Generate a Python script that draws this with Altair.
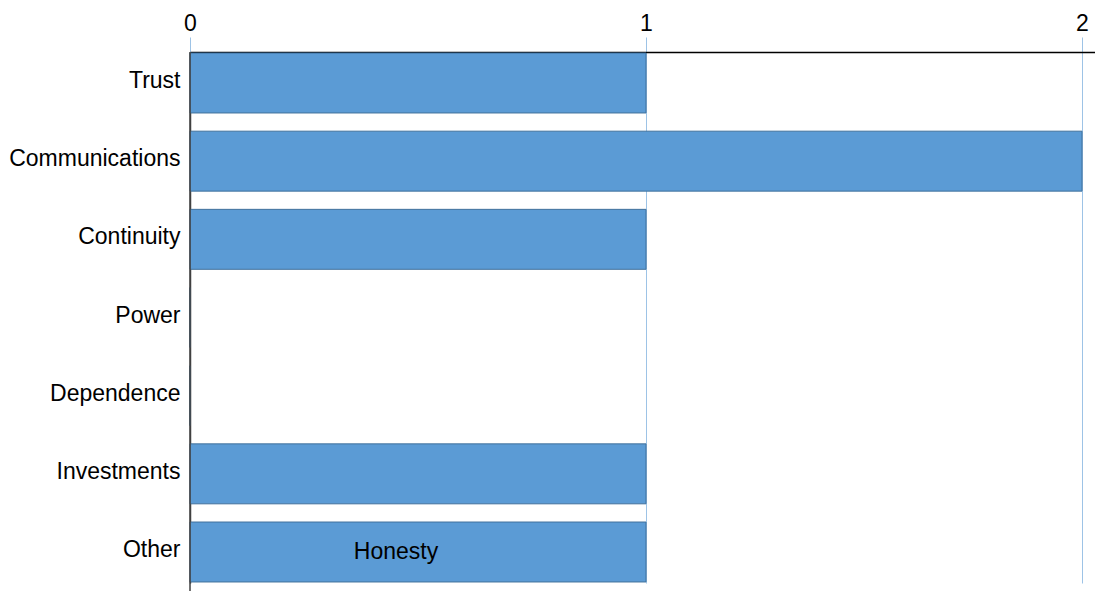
import altair as alt
import pandas as pd

categories = ["Trust", "Communications", "Continuity", "Power", "Dependence", "Investments", "Other"]
values = [1, 2, 1, 0, 0, 1, 1]
bar_labels = ["", "", "", "", "", "", "Honesty"]
x_ticks = [0, 1, 2]

df = pd.DataFrame({"category": categories, "value": values, "label": bar_labels})
df["mid"] = df["value"] / 2

FONT = "Liberation Sans, Arial, sans-serif"
FS = 23
W, H = 905, 531

x_scale = alt.Scale(domain=[0, 1, 2, 2.03], range=[0, 456, 892, W], nice=False)
y_enc = alt.Y(
    "category:N",
    sort=categories,
    scale=alt.Scale(paddingInner=0.233, paddingOuter=0.013),
    axis=alt.Axis(
        title=None, ticks=False, labelFontSize=FS, labelFont=FONT, labelColor="black",
        labelPadding=10, labelLimit=400, domainColor="#404040", domainWidth=1.5,
        grid=False, labelOffset=-2,
    ),
)

bars = alt.Chart(df).mark_bar(fill="#5B9BD5", stroke="#41719C", strokeWidth=1).encode(
    x=alt.X(
        "value:Q",
        scale=x_scale,
        axis=alt.Axis(
            orient="top", values=x_ticks, tickCount=20, tickMinStep=0.1,
            labelExpr="format(datum.value, 'd')", title=None, labelFontSize=FS,
            labelFont=FONT, labelColor="black", labelPadding=2, tickSize=15,
            tickColor="#9DC3E6", tickWidth=1, domainColor="black", domainWidth=1.5,
            grid=True, gridColor="#9DC3E6", gridWidth=1, gridOpacity=1, labelFlush=False,
            labelOverlap=False,
        ),
    ),
    y=y_enc,
)

text = alt.Chart(df).transform_filter("datum.label != ''").mark_text(
    font=FONT, fontSize=FS, color="black", baseline="middle", align="center", dx=-22
).encode(
    x=alt.X("mid:Q", scale=x_scale),
    y=alt.Y("category:N", sort=categories),
    text="label:N",
)

axis_ext = alt.Chart(pd.DataFrame({"a": [0]})).mark_rule(color="#404040", strokeWidth=1.5).encode(
    x=alt.value(0), y=alt.value(0), y2=alt.value(H + 30)
)

chart = alt.layer(bars, text, axis_ext).properties(
    width=W, height=H,
    autosize=alt.AutoSizeParams(type="none"),
    padding={"left": 182, "top": 44, "right": 0, "bottom": 8},
).configure_view(stroke=None)

chart.save("out.html", embed_options={"renderer": "svg", "actions": False})
